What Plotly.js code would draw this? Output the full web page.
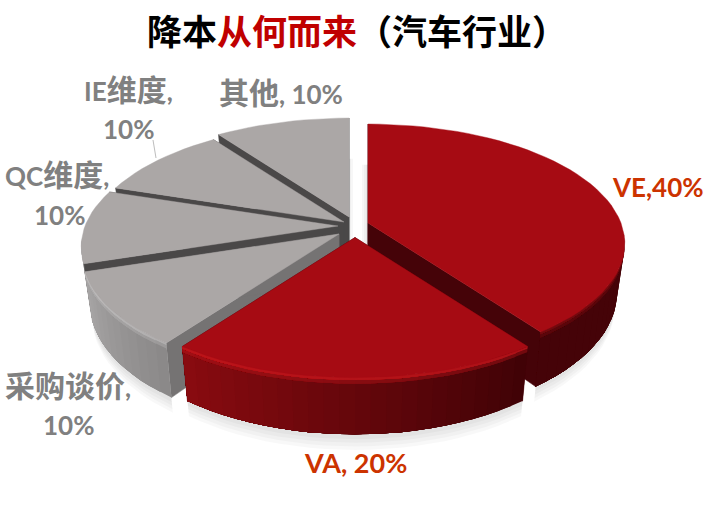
<!DOCTYPE html>
<html><head><meta charset="utf-8">
<script src="https://cdn.plot.ly/plotly-3.0.1.min.js"></script>
<style>html,body{margin:0;padding:0;background:#fff}</style></head>
<body><div id="chart" style="width:711px;height:511px"></div>
<script>
// Data
const categories = ["VE","VA","采购谈价","QC维度","IE维度","其他"];
const shares = [40,20,10,10,10,10];
const separators = [",",", ",",",",",",",", "];
// Style per slice
const topColors = ["#a60b13","#a60b13","#aba7a6","#aba7a6","#aba7a6","#aba7a6"];
const wallColors = ["#450308","#450308","#757373","#4a4848","#4a4848","#4a4848"];
const sideStartColors = ["#450308","#3f0206","#8a8888","#a5a3a3","#a5a3a3","#a5a3a3"];
const sideEndColors = ["#450308","#8a0b10","#a8a6a6","#a5a3a3","#a5a3a3","#a5a3a3"];
const rimMix = [0.35,0.8,0.55,0.3,0.3,0.3];
const labelColors = ["#cc3300","#cc3300","#808080","#808080","#808080","#808080"];
const labelSizes = [26,27,26,26,26,26];
const wallOverSide = [false,false,false,true,false,false];
// Layout of exploded slices and of the labels, in plot units
const centerX = [368,355,339,338,344,349];
const centerY = [223,237.5,234,226,222,217];
const labelX = [[658],[355],[68,68],[57,59],[128,128],[281]];
const labelY = [[187],[462],[385,425],[174,215],[89,129],[92]];
const lineBreak = [false,false,true,true,true,false];
// Order in which slices are painted, back to front
const paintOrder = [5,4,3,2,0,1];
// Projection of the tilted disc
const radiusX = 253, radiusY = 116, persp = 0.172, depth = 47, shrink = 0.97, stepDeg = 3;

function hex(c){return [1,3,5].map(i=>parseInt(c.substr(i,2),16));}
function mix(a,b,t){const A=hex(a),B=hex(b);return 'rgb('+A.map((v,i)=>Math.round(v+(B[i]-v)*t)).join(',')+')';}
function mixRgb(a,b,t){const A=a.match(/\d+/g).map(Number),B=hex(b);return 'rgb('+A.map((v,i)=>Math.round(v+(B[i]-v)*t)).join(',')+')';}
function proj(i,deg,r,d){
  const t=deg*Math.PI/180,u=r*Math.sin(t),v=r*Math.cos(t),w=1+persp*v;
  const s=1-(1-shrink)*(d/depth);
  return [centerX[i]+s*radiusX*u/w, centerY[i]-radiusY*v/w+d/w];
}
const traces=[];
function poly(pts,color,lw){
  const x=pts.map(p=>p[0]),y=pts.map(p=>p[1]);x.push(x[0]);y.push(y[0]);
  traces.push({type:'scatter',mode:'lines',x,y,fill:'toself',fillcolor:color,
    line:{color:lw?color:'rgba(0,0,0,0)',width:lw||0},hoverinfo:'skip',showlegend:false});
}
const total=shares.reduce((a,b)=>a+b,0);
const start=[];let acc=0;shares.forEach(v=>{start.push(acc/total*360);acc+=v;});
function arc(i,a0,a1,d){const n=Math.max(2,Math.ceil((a1-a0)/stepDeg));const o=[];for(let k=0;k<=n;k++)o.push(proj(i,a0+(a1-a0)*k/n,1,d));return o;}
function frontRange(a0,a1){ // the part of a rim that faces the viewer
  let lo=a0,hi=a1;
  const cut=97;
  if(lo<cut) lo=cut;
  if(hi>360-cut) hi=360-cut;
  return [lo,hi];
}
function band(i,from,to,d0,d1,c){
  poly(arc(i,from,to,d0).concat(arc(i,from,to,d1).reverse()),c);
}

// soft shadow under the front slices
[0,1,2].forEach(i=>{
  const [lo,hi]=frontRange(start[i],start[i]+shares[i]/total*360);
  [13,10,7,4].forEach(extra=>band(i,lo,hi,depth-6,depth+extra,'rgba(0,0,0,0.028)'));
});
// faint shadows falling into the gap between the grey and the red halves
[[0,-2],[0,-4],[0,-6],[5,2],[5,4]].forEach(([i,off])=>{
  const shift=p=>[p[0]+off,p[1]];
  const d=proj(i,0,0,depth),e=proj(i,0,0.55,0);
  poly([shift(d),shift(e),e,d],'rgba(0,0,0,0.03)');
});

paintOrder.forEach(i=>{
  const a0=start[i],a1=a0+shares[i]/total*360;
  const walls=()=>[a0,a1].forEach(a=>{
    poly([proj(i,a,0,0),proj(i,a,1,0),proj(i,a,1,depth),proj(i,a,0,depth)],wallColors[i],0.5);
  });
  if(!wallOverSide[i]) walls();
  const [lo,hi]=frontRange(a0,a1);
  if(hi>lo){
    const n=Math.ceil((hi-lo)/stepDeg);
    const bright=topColors[i]==="#a60b13"?"#c8161c":"#d0cece";
    const layers=[[0,depth,0],[2,5,0.45],[0,2,1]];
    layers.forEach(([d0,d1,w])=>{
      for(let k=0;k<n;k++){
        const b0=lo+(hi-lo)*k/n;
        const t=((b0+(hi-lo)/n/2)-a0)/(a1-a0);
        const base=mix(sideStartColors[i],sideEndColors[i],t);
        band(i,b0,hi,d0,d1,mixRgb(base,bright,rimMix[i]*w));
      }
    });
  }
  if(wallOverSide[i]) walls();
  poly([proj(i,a0,0,0)].concat(arc(i,a0,a1,0)),topColors[i],0.4);
});

const fontFamily='Lato, "Noto Sans CJK SC", sans-serif';
const cjkSize=30;
function rich(t){return t.replace(/[\u4e00-\u9fff]+/g,m=>'<span style="font-size:'+cjkSize+'px">'+m+'</span>');}
const annotations=[];
categories.forEach((c,i)=>{
  const pct=shares[i]+'%';
  const lines=lineBreak[i]?[c+separators[i].trim(),pct]:[c+separators[i]+pct];
  lines.forEach((t,j)=>annotations.push({x:labelX[i][j],y:labelY[i][j],xref:'x',yref:'y',text:rich(t),showarrow:false,
    xanchor:'center',yanchor:'middle',font:{family:fontFamily,size:labelSizes[i],color:labelColors[i],weight:700}}));
});

Plotly.newPlot('chart',traces,{
  width:711,height:511,margin:{l:0,r:0,t:0,b:0},paper_bgcolor:'#fff',plot_bgcolor:'#fff',showlegend:false,
  xaxis:{range:[0,711],visible:false,fixedrange:true},
  yaxis:{range:[511,0],visible:false,fixedrange:true},
  title:{text:'降本<span style="color:#c00000">从何而来</span>（汽车行业）',x:0.502,xanchor:'center',y:0.935,yanchor:'middle',
    font:{family:'"Noto Sans CJK SC", sans-serif',size:35,color:'#000000',weight:700}},
  annotations,
  shapes:[{type:'line',xref:'x',yref:'y',x0:153,y0:140,x1:156,y1:158,line:{color:'#bdbdbd',width:1}}]
},{staticPlot:true});
</script></body></html>
